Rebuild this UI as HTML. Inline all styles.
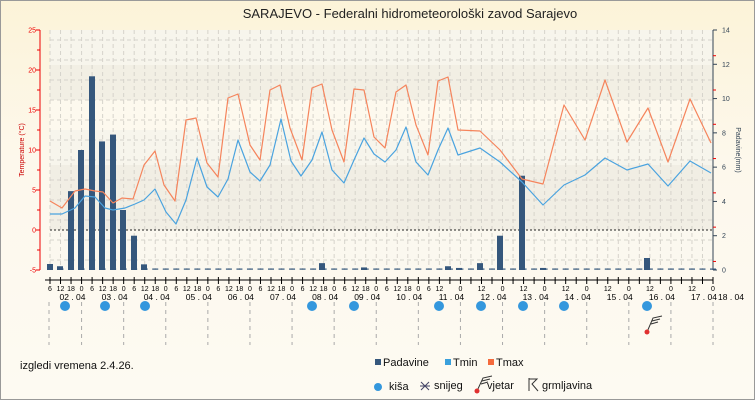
<!DOCTYPE html>
<html><head><meta charset="utf-8"><style>
html,body{margin:0;padding:0;}
body{width:755px;height:400px;overflow:hidden;font-family:"Liberation Sans",sans-serif;}
</style></head><body>
<svg width="755" height="400" xmlns="http://www.w3.org/2000/svg" font-family="Liberation Sans, DejaVu Sans, sans-serif">
<defs>
<linearGradient id="bg" x1="0" y1="0" x2="0" y2="1"><stop offset="0" stop-color="#fcf3d8"/><stop offset="0.4" stop-color="#fdf8ec"/><stop offset="1" stop-color="#fdfaf2"/></linearGradient>
</defs>
<rect x="0.5" y="0.5" width="754" height="399" fill="url(#bg)" stroke="#999"/>
<text x="410" y="18" font-size="13" text-anchor="middle" fill="#222">SARAJEVO - Federalni hidrometeorološki zavod Sarajevo</text>
<rect x="50" y="30" width="663" height="240" fill="#f7f5ec"/>
<rect x="50" y="65" width="663" height="35" fill="#f2efe4"/>
<rect x="50" y="100" width="663" height="30" fill="#fdf9ee"/>
<rect x="50" y="165" width="663" height="65" fill="#f1eee4"/>
<rect x="50" y="230" width="663" height="40" fill="#fbf8ef"/>
<g stroke="#d6d3cb" stroke-dasharray="4,3" stroke-width="1" id="grid"></g>
<line x1="50" y1="230" x2="713" y2="230" stroke="#222" stroke-dasharray="2,2"/>
<line x1="40" y1="30" x2="40" y2="270" stroke="#e00"/>
<g font-size="7" fill="#e00" text-anchor="end" id="laxis"></g>
<text transform="translate(24,150) rotate(-90)" font-size="7" fill="#c00" text-anchor="middle">Temperature (°C)</text>
<line x1="713" y1="30" x2="713" y2="270" stroke="#345"/>
<g font-size="7" fill="#345" id="raxis"></g>
<text transform="translate(736,150) rotate(90)" font-size="7" fill="#345" text-anchor="middle">Padavine(mm)</text>
<g id="bars" fill="#35577c"></g>
<polyline fill="none" stroke="#f5845c" stroke-width="1.2" stroke-linejoin="round" points="50,201 62,208 75,191 85,189 95,191 103,192 113,203 122,198 133,199 144,165 155,151 164,185 175,201 186,120 196,118 207,163 218,177 228,98 238,94 250,145 260,160 270,90 280,85 290,128 302,160 312,88 322,84 332,130 344,162 354,89 364,90 374,137 385,148 396,92 406,85 416,125 428,155 438,81 448,77 458,130 480,131 500,150 522,179 543,184 564,105 585,140 605,80 627,142 648,108 668,162 690,99 711,143"/>
<polyline fill="none" stroke="#4aa3df" stroke-width="1.2" stroke-linejoin="round" points="50,214 62,214 75,208 85,196 95,197 105,208 113,210 125,208 135,204 144,200 155,189 166,212 176,224 186,200 197,158 207,187 218,197 228,179 238,140 250,172 260,181 270,165 281,119 291,161 301,176 312,160 322,132 332,170 344,183 354,160 364,138 374,154 385,162 396,150 406,127 416,162 428,175 438,150 448,128 458,155 480,148 500,162 522,182 543,205 564,185 585,175 605,158 627,170 648,164 668,186 690,161 711,173"/>
<line x1="45" y1="280" x2="713" y2="280" stroke="#000"/>
<g id="xt" font-size="7" fill="#000" text-anchor="middle"></g>
<g id="lower" stroke="#aaa" stroke-dasharray="4,4"></g>
<g fill="#3497dd" id="rain"></g>
<g stroke="#333" fill="none" stroke-width="1"><path d="M647,332 L653,318 L662,316 M652,321 L660,319 M651,324 L658,322"/></g>
<circle cx="647" cy="332" r="2.5" fill="#e03030"/>
<text x="20" y="369" font-size="11" fill="#111">izgledi vremena 2.4.26.</text>
<g font-size="11" fill="#111">
<rect x="375" y="359" width="6" height="6" fill="#35577c"/><text x="383" y="366">Padavine</text>
<rect x="445" y="359" width="6" height="6" fill="#3aa0dc"/><text x="453" y="366">Tmin</text>
<rect x="488" y="359" width="6" height="6" fill="#f56a3c"/><text x="496" y="366">Tmax</text>
<circle cx="378" cy="387" r="4" fill="#3497dd"/><text x="389" y="390">kiša</text>
<path d="M421,382 L429,390 M421,390 L429,382 M420,386 L430,386" stroke="#446" stroke-width="1"/><text x="434" y="389">snijeg</text>
<path d="M477,391 L483,378 L492,376 M482,381 L490,379 M481,384 L488,382" stroke="#333" fill="none"/><circle cx="477" cy="391" r="2.5" fill="#e03030"/><text x="487" y="389">vjetar</text>
<path d="M529,378 L529,391 M529,379 L537,379 L532,384 L538,391" stroke="#333" fill="none"/><text x="542" y="389">grmljavina</text>
</g>
</svg>
<script>
const NS="http://www.w3.org/2000/svg";
function el(p,t,a,txt){const e=document.createElementNS(NS,t);for(const k in a)e.setAttribute(k,a[k]);if(txt!==undefined)e.textContent=txt;document.getElementById(p).appendChild(e);}
const X=h=>50+h*1.754;
for(let y=30;y<=270;y+=20)el('grid','line',{x1:50,x2:713,y1:y+10,y2:y+10});
for(let h=0;h<=378;h+=6)el('grid','line',{x1:X(h),x2:X(h),y1:30,y2:270});
for(let t=-5;t<=25;t+=5){const y=30+(25-t)*8;el('laxis','text',{x:36,y:y+2.5},t);el('laxis','line',{x1:36,x2:40,y1:y,y2:y,stroke:'#e00'});}
for(let t=-5;t<25;t+=5){const y=30+(25-t)*8-20;el('laxis','line',{x1:37,x2:40,y1:y,y2:y,stroke:'#e00'});}
for(let m=0;m<=14;m+=2){const y=270-m*240/14;el('raxis','text',{x:722,y:y+2.5},m);el('raxis','line',{x1:713,x2:717,y1:y,y2:y,stroke:'#345'});
 if(m<14)el('raxis','line',{x1:713,x2:716,y1:y-240/28,y2:y-240/28,stroke:'#e00'});}
const bars=[[50,0.35],[60,0.22],[71,4.6],[81,7],[92,11.3],[102,7.5],[113,7.9],[123,3.5],[134,2],[144,0.33],[322,0.4],[364,0.15],[448,0.22],[459,0.12],[480,0.4],[500,2],[522,5.5],[543,0.12],[647,0.7]];
for(let h=0;h<=378;h+=6){el('bars','rect',{x:X(h)-3,y:268.5,width:6,height:1.2});}
bars.forEach(([x,m])=>{const hh=m*240/14;el('bars','rect',{x:x-3,y:270-hh,width:6,height:hh});});
for(let h=0;h<=378;h+=6){const hr=(h+6)%24;const x=X(h);el('xt','line',{x1:x,x2:x,y1:277,y2:284,stroke:'#000'});
 if(h<228||hr%12==0)el('xt','text',{x:x,y:291},hr);}
const days=['02','03','04','05','06','07','08','09','10','11','12','13','14','15','16','17'];
days.forEach((d,i)=>{el('xt','text',{x:X(i*24+6)+12,y:300,'font-size':8.5},d+' . 04');});
el('xt','text',{x:731,y:300,'font-size':8.5},'18 . 04');
for(let i=0;i<=15;i++){const x=X(i*24+18);el('lower','line',{x1:x,x2:x,y1:302,y2:345});}
el('lower','line',{x1:49,x2:49,y1:302,y2:345});
[65,105,145,312,354,439,481,523,564,647].forEach(x=>el('rain','circle',{cx:x,cy:306,r:5}));
</script>
</body></html>
